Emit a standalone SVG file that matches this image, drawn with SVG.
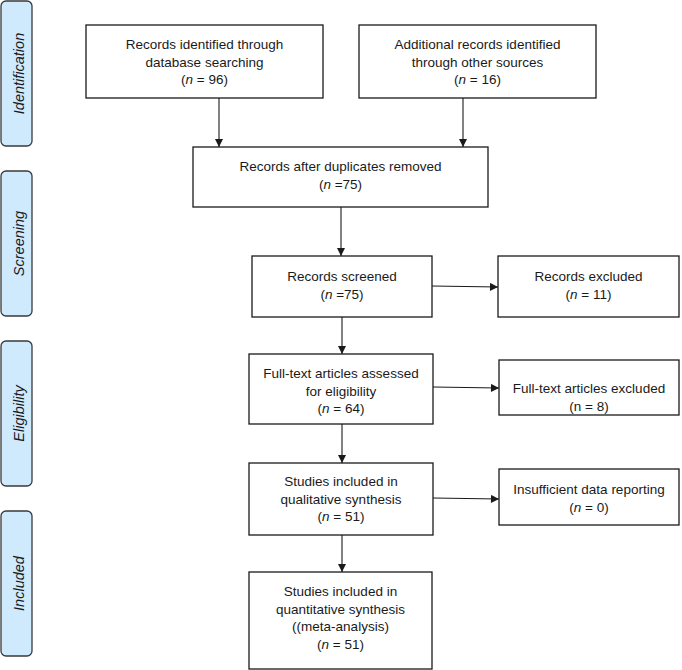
<svg xmlns="http://www.w3.org/2000/svg" width="682" height="670" viewBox="0 0 682 670">
<style>
.phase{fill:#cfe9fd;stroke:#3a3a3a;stroke-width:1.3}
.ptxt{font-family:"Liberation Sans",Arial,sans-serif;font-style:italic;font-size:14.5px;fill:#1a1a1a;text-anchor:middle}
.box{fill:#ffffff;stroke:#1a1a1a;stroke-width:1.3}
.t{font-family:"Liberation Sans",Arial,sans-serif;font-size:13.5px;fill:#1a1a1a;text-anchor:middle}
.i{font-style:italic}
.con line{stroke:#1a1a1a;stroke-width:1.1;fill:none}
</style>
<defs>
<marker id="ah" viewBox="0 0 10 10" refX="10" refY="5" markerWidth="9" markerHeight="8" markerUnits="userSpaceOnUse" orient="auto">
<path d="M0,0 L10,5 L0,10 Z" fill="#1a1a1a"/>
</marker>
</defs>
<rect width="682" height="670" fill="#ffffff"/>

<g id="phase-identification">
<rect class="phase" x="1" y="1" width="31" height="145" rx="5"/>
<text class="ptxt" transform="translate(24,73.5) rotate(-90)">Identification</text>
</g>
<g id="phase-screening">
<rect class="phase" x="1" y="171" width="31" height="145" rx="5"/>
<text class="ptxt" transform="translate(24,243.5) rotate(-90)">Screening</text>
</g>
<g id="phase-eligibility">
<rect class="phase" x="1" y="341" width="31" height="145" rx="5"/>
<text class="ptxt" transform="translate(24,413.5) rotate(-90)">Eligibility</text>
</g>
<g id="phase-included">
<rect class="phase" x="1" y="511" width="31" height="145" rx="5"/>
<text class="ptxt" transform="translate(24,583.5) rotate(-90)">Included</text>
</g>

<g id="connectors" class="con">
<line x1="219" y1="98" x2="219" y2="147" marker-end="url(#ah)"/>
<line x1="463" y1="98" x2="463" y2="147" marker-end="url(#ah)"/>
<line x1="341" y1="207" x2="341" y2="256" marker-end="url(#ah)"/>
<line x1="432" y1="286" x2="498" y2="287" marker-end="url(#ah)"/>
<line x1="342" y1="317" x2="342" y2="354" marker-end="url(#ah)"/>
<line x1="433" y1="387" x2="499" y2="388" marker-end="url(#ah)"/>
<line x1="342" y1="424" x2="342" y2="463" marker-end="url(#ah)"/>
<line x1="433" y1="498" x2="499" y2="499" marker-end="url(#ah)"/>
<line x1="342" y1="535" x2="342" y2="572" marker-end="url(#ah)"/>
</g>

<g id="node-database">
<rect class="box" x="86" y="25" width="237" height="73"/>
<text class="t" x="204.5" y="49">Records identified through</text>
<text class="t" x="204.5" y="66.5">database searching</text>
<text class="t" x="204.5" y="84">(<tspan class="i">n</tspan> = 96)</text>
</g>
<g id="node-other">
<rect class="box" x="359" y="25" width="237" height="73"/>
<text class="t" x="477.5" y="49">Additional records identified</text>
<text class="t" x="477.5" y="66.5">through other sources</text>
<text class="t" x="477.5" y="84">(<tspan class="i">n</tspan> = 16)</text>
</g>
<g id="node-duplicates">
<rect class="box" x="193" y="147" width="295" height="60"/>
<text class="t" x="340.5" y="171">Records after duplicates removed</text>
<text class="t" x="340.5" y="188.5">(<tspan class="i">n</tspan> =75)</text>
</g>
<g id="node-screened">
<rect class="box" x="252" y="256" width="180" height="61"/>
<text class="t" x="342" y="281">Records screened</text>
<text class="t" x="342" y="298.5">(<tspan class="i">n</tspan> =75)</text>
</g>
<g id="node-excluded">
<rect class="box" x="498" y="256" width="181" height="61"/>
<text class="t" x="588.5" y="281">Records excluded</text>
<text class="t" x="588.5" y="298.5">(<tspan class="i">n</tspan> = 11)</text>
</g>
<g id="node-fulltext">
<rect class="box" x="249" y="354" width="184" height="70"/>
<text class="t" x="341" y="378">Full-text articles assessed</text>
<text class="t" x="341" y="395.5">for eligibility</text>
<text class="t" x="341" y="413">(<tspan class="i">n</tspan> = 64)</text>
</g>
<g id="node-fulltext-excluded">
<rect class="box" x="499" y="360" width="180" height="55"/>
<text class="t" x="589" y="393">Full-text articles excluded</text>
<text class="t" x="589" y="410.5">(n = 8)</text>
</g>
<g id="node-qualitative">
<rect class="box" x="249" y="463" width="184" height="72"/>
<text class="t" x="341" y="486">Studies included in</text>
<text class="t" x="341" y="503.5">qualitative synthesis</text>
<text class="t" x="341" y="521">(<tspan class="i">n</tspan> = 51)</text>
</g>
<g id="node-insufficient">
<rect class="box" x="499" y="469" width="180" height="56"/>
<text class="t" x="589" y="494">Insufficient data reporting</text>
<text class="t" x="589" y="511.5">(<tspan class="i">n</tspan> = 0)</text>
</g>
<g id="node-quantitative">
<rect class="box" x="249" y="572" width="183" height="97"/>
<text class="t" x="340.5" y="596">Studies included in</text>
<text class="t" x="340.5" y="613.5">quantitative synthesis</text>
<text class="t" x="340.5" y="631">((meta-analysis)</text>
<text class="t" x="340.5" y="648.5">(<tspan class="i">n</tspan> = 51)</text>
</g>
</svg>
